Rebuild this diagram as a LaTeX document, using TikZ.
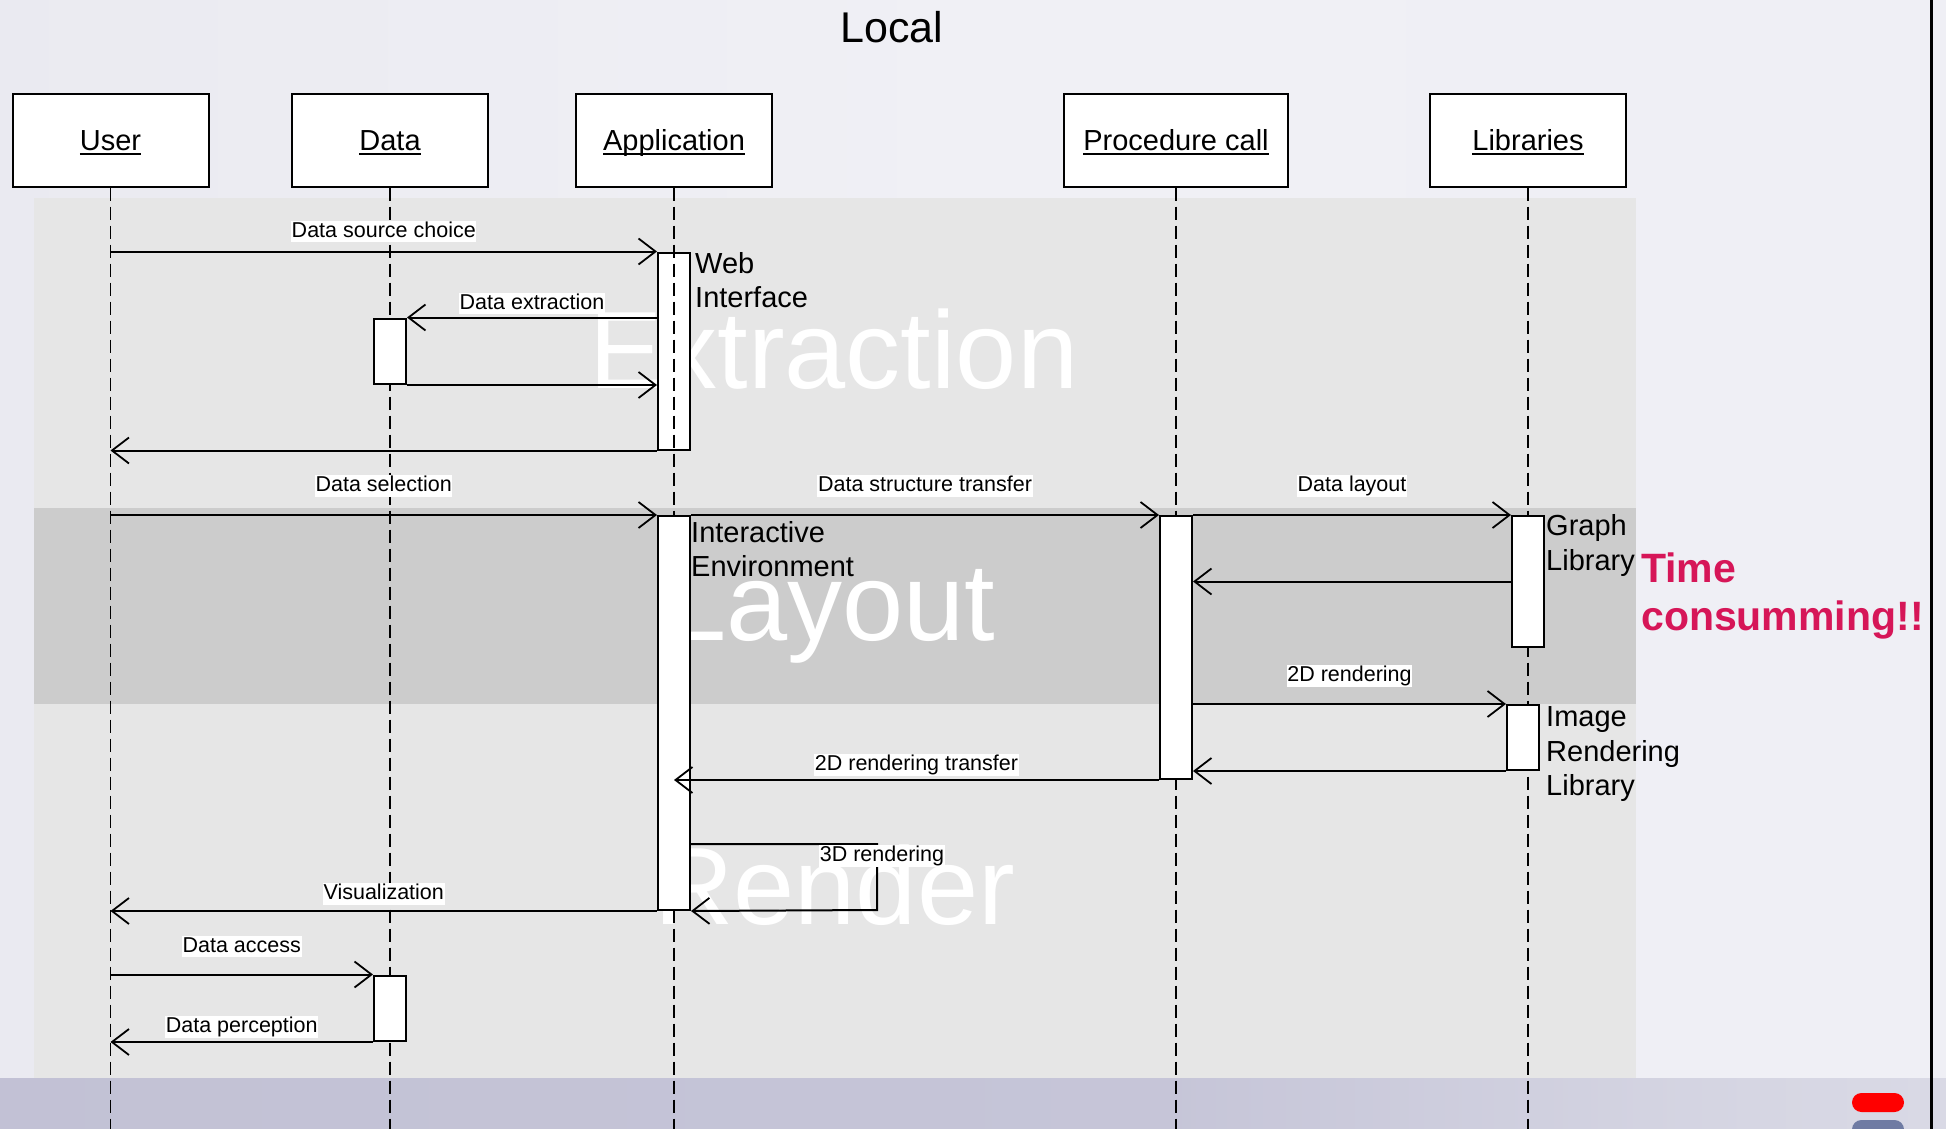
\documentclass[tikz,border=0pt]{standalone}
\usepackage{fontspec}
\setmainfont{Liberation Sans}
\usetikzlibrary{arrows.meta,calc}

\definecolor{bandlight}{HTML}{E6E6E6}
\definecolor{banddark}{HTML}{CCCCCC}
\definecolor{alertred}{RGB}{214,22,88}
\definecolor{pillred}{HTML}{FF0000}
\definecolor{pillblue}{HTML}{6F7BA3}

% soft page background and footer strip
\pgfdeclarehorizontalshading{pagebg}{100bp}{rgb(0bp)=(0.827,0.827,0.882); rgb(20bp)=(0.914,0.914,0.941); rgb(50bp)=(0.941,0.941,0.961); rgb(100bp)=(0.933,0.933,0.957)}
\pgfdeclarehorizontalshading{footbg}{100bp}{rgb(0bp)=(0.749,0.745,0.824); rgb(55bp)=(0.776,0.773,0.847); rgb(70bp)=(0.839,0.839,0.890); rgb(100bp)=(0.914,0.914,0.941)}

% underlined object name with a rule at a fixed depth
\newcommand\ulword[1]{\setbox0=\hbox{#1}\rlap{\rule[-5pt]{\wd0}{2pt}}\box0}

\begin{document}
\begin{tikzpicture}[x=1pt, y=-1pt,
  header/.style={draw=black, line width=2pt, fill=white, minimum height=92pt,
    minimum width=196pt, inner sep=0pt, font=\fontsize{29pt}{35pt}\selectfont,
    text height=24pt, text depth=5pt},
  act/.style={draw=black, line width=2pt, fill=white, minimum width=32pt, inner sep=0pt},
  life/.style={line width=1.6pt, dash pattern=on 13pt off 6pt},
  msg/.style={line width=2pt, -{Straight Barb[length=17pt, width=26pt, line width=1.8pt]}},
  lbl/.style={fill=white, inner sep=0.6pt, font=\fontsize{21.5pt}{24pt}\selectfont,
    text height=15.7pt, text depth=4.6pt},
  side/.style={anchor=base west, inner sep=0pt, font=\fontsize{29pt}{35pt}\selectfont},
  watermark/.style={anchor=base west, inner sep=0pt, text=white,
    font=\fontsize{110pt}{110pt}\selectfont},
  alertnote/.style={anchor=base west, inner sep=0pt, text=alertred,
    font=\fontsize{41pt}{48pt}\selectfont\bfseries},
  pagetitle/.style={anchor=base, inner sep=0pt, font=\fontsize{43pt}{50pt}\selectfont}
]
\useasboundingbox (0,0) rectangle (1946,1129);
\clip (0,0) rectangle (1946,1129);

% background
\shade[shading=pagebg] (0,0) rectangle (1946,1129);
\shade[shading=footbg] (0,1078) rectangle (1946,1129);

% phase bands
\fill[bandlight] (33.5,198) rectangle (1636,1078);
\fill[banddark] (33.5,508) rectangle (1636,704);

% phase names
\node[watermark] (wmExtract) at (589,388) {Extraction};
\node[watermark] (wmLayout) at (665,640) {Layout};
\node[watermark] (wmRender) at (654,924) {Render};

\node[pagetitle] (title) at (892,43) {Local};

% first activation of the application sits under its lifeline
\node[act, minimum height=197pt] (actWeb) at (674,351) {};

% objects and lifelines
\node[header] (hUser) at (110.5,140.5) {\ulword{User}};
\node[header] (hData) at (390,140.5) {\ulword{Data}};
\node[header] (hApp) at (674,140.5) {\ulword{Application}};
\node[header, minimum width=224pt] (hProc) at (1176,140.5) {\ulword{Procedure call}};
\node[header] (hLib) at (1528,140.5) {\ulword{Libraries}};

\coordinate (floor) at (0,1129);
\foreach \h in {hUser,hData,hApp,hProc,hLib}
  \draw[life] (\h.south) -- (\h.south |- floor);

% activations
\node[act, minimum height=65.5pt] (actDataA) at (390,351.25) {};
\node[act, minimum height=394pt] (actEnv) at (674,713) {};
\node[act, minimum height=263pt] (actProc) at (1176,647.5) {};
\node[act, minimum height=131pt] (actGraph) at (1528,581.5) {};
\node[act, minimum height=65pt] (actImage) at (1523,737.5) {};
\node[act, minimum height=65.5pt] (actDataB) at (390,1008.25) {};

% extraction
\draw[msg] (hUser.south |- actWeb.north) -- node[lbl, midway, yshift=20pt] (lSource) {Data source choice} (actWeb.north west);
\draw[msg] (actWeb.west |- actDataA.north) -- node[lbl, midway, yshift=14pt] (lExtract) {Data extraction} (actDataA.north east);
\draw[msg] (actDataA.south east) -- (actWeb.west |- actDataA.south);
\draw[msg] (actWeb.south west) -- (hUser.south |- actWeb.south);

% layout
\draw[msg] (hUser.south |- actEnv.north) -- node[lbl, midway, yshift=29pt] (lSelect) {Data selection} (actEnv.north west);
\draw[msg] (actEnv.north east) -- node[lbl, midway, yshift=29pt] (lStruct) {Data structure transfer} (actProc.north west);
\draw[msg] (actProc.north east) -- node[lbl, midway, yshift=29pt] (lLayout) {Data layout} (actGraph.north west);
\coordinate (rowGraph) at (0,581.5);
\draw[msg] (actGraph.west |- rowGraph) -- (actProc.east |- rowGraph);

% render
\draw[msg] (actProc.east |- actImage.north) -- node[lbl, midway, yshift=28pt] (l2d) {2D rendering} (actImage.north west);
\draw[msg] (actImage.south west) -- (actProc.east |- actImage.south);
\draw[msg] (actProc.south west) -- node[lbl, midway, yshift=15pt] (l2dT) {2D rendering transfer} (hApp.south |- actProc.south);
\coordinate (selfTop) at (877,844);
\coordinate (selfBot) at (877,910);
\draw[msg] (actEnv.east |- selfTop) -- (selfTop) -- (selfBot) -- (actEnv.south east);
\node[lbl] (l3d) at (882,856) {3D rendering};
\draw[msg] (actEnv.south west) -- node[lbl, midway, yshift=17pt] (lVis) {Visualization} (hUser.south |- actEnv.south);
\draw[msg] (hUser.south |- actDataB.north) -- node[lbl, midway, yshift=28pt] (lAccess) {Data access} (actDataB.north west);
\draw[msg] (actDataB.south west) -- node[lbl, midway, yshift=15pt] (lPercept) {Data perception} (hUser.south |- actDataB.south);

% activation notes
\node[side] (webA) at (695,273) {Web};
\node[side] (webB) at (695,307) {Interface};
\node[side] (envA) at (691,542) {Interactive};
\node[side] (envB) at (691,576) {Environment};
\node[side] (libA) at (1546,535) {Graph};
\node[side] (libB) at (1546,570) {Library};
\node[side] (imgA) at (1546,726) {Image};
\node[side] (imgB) at (1546,761) {Rendering};
\node[side] (imgC) at (1546,795) {Library};

\node[alertnote] (timeA) at (1641,582) {Time};
\node[alertnote] (timeB) at (1641,630) {consumming!!};

% page edge and controls
\draw[line width=3pt] (1931,0) -- (1931,1129);
\fill[pillred, rounded corners=9.5pt] (1852,1093) rectangle (1904,1112);
\fill[pillblue, rounded corners=9.5pt] (1852,1120) rectangle (1904,1148);
\end{tikzpicture}
\end{document}
